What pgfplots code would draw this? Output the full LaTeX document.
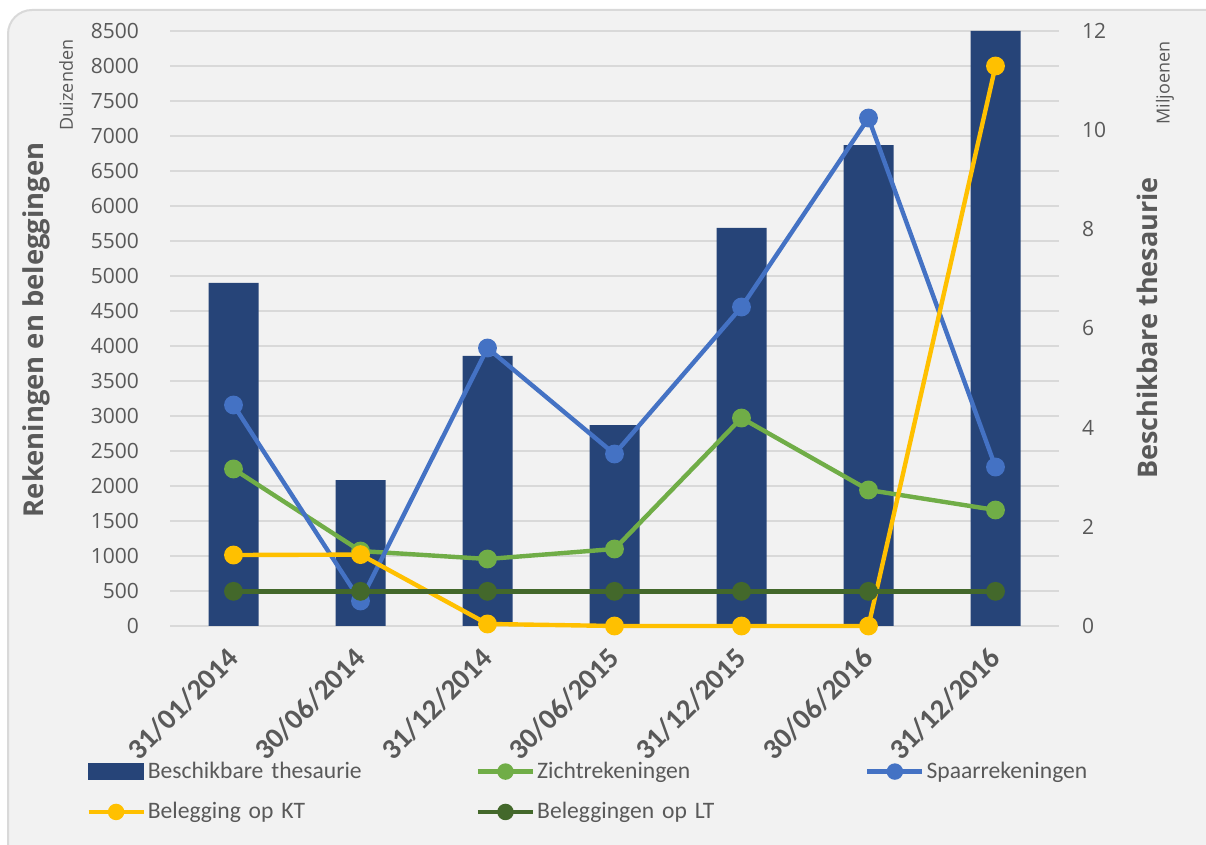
\documentclass[border=0pt]{standalone}
\usepackage{pgfplots}
\pgfplotsset{compat=1.18}
\usepackage{fontspec}
\setmainfont{Open Sans}
\newfontfamily\carl{Carlito}
\definecolor{barblue}{HTML}{264478}
\definecolor{lgreen}{HTML}{70AD47}
\definecolor{lblue}{HTML}{4472C4}
\definecolor{lyellow}{HTML}{FFC000}
\definecolor{dgreen}{HTML}{43682B}
\definecolor{textgray}{HTML}{595959}
\definecolor{gridgray}{HTML}{D9D9D9}
\definecolor{bggray}{HTML}{F2F2F2}
\begin{document}
\begin{tikzpicture}
% 1 px of the reference = 0.5pt
\fill[white] (0pt,0pt) rectangle (603pt,422.5pt);
\draw[draw=gridgray, fill=bggray, line width=1pt, rounded corners=12pt] (4pt,-15pt) rectangle (620pt,417.5pt);

\pgfplotsset{
  base/.style={
    at={(85pt,109.5pt)}, anchor=south west, scale only axis,
    width=444.5pt, height=297.5pt,
    xmin=-0.5, xmax=6.5, xtick={0,...,6},
    axis line style={draw=none}, tick style={draw=none},
    clip=false,
    ticklabel style={font=\fontsize{10.5}{12}\selectfont, text=textgray},
    /pgf/number format/assume math mode=true,
    /pgf/number format/1000 sep={},
  },
  lin/.style={line width=2.2pt, mark=*, mark size=3.6pt},
}

% grid + left ticks + category labels
\begin{axis}[base,
  ymin=0, ymax=8500, ytick={0,500,...,8500},
  ymajorgrids, grid style={gridgray, line width=1pt},
  xticklabels={31/01/2014,30/06/2014,31/12/2014,30/06/2015,31/12/2015,30/06/2016,31/12/2016},
  xticklabel style={xshift=-4pt, yshift=-5pt, rotate=45, anchor=north east, font=\carl\bfseries\fontsize{14.5}{16}\selectfont},
  yticklabel style={anchor=east, xshift=-12pt},
]
\addplot[draw=none] coordinates {(0,0)};
\end{axis}

% bars on right axis
\begin{axis}[base,
  ymin=0, ymax=12, ytick={0,2,...,12},
  yticklabel pos=right,
  yticklabel style={anchor=west, xshift=8pt},
  xticklabels={},
  ybar, bar width=25pt,
]
\addplot[fill=barblue, draw=none] coordinates {
  (0,6.92) (1,2.94) (2,5.45) (3,4.05) (4,8.03) (5,9.70) (6,12.0)
};
\end{axis}

% lines on left axis
\begin{axis}[base,
  ymin=0, ymax=8500, ytick={0,500,...,8500},
  yticklabels={}, xticklabels={},
  legend columns=3,
  legend style={draw=none, fill=none, at={(-0.0945,-0.221)}, anchor=north west,
    inner sep=0pt, row sep=6.5pt,
    font=\carl\fontsize{11.8}{13}\selectfont, text=textgray,
    nodes={text width=163pt, inner xsep=1pt, align=left}},
  legend image code/.code={\draw[mark repeat=2,mark phase=2,mark size=3pt,#1] plot coordinates {(0pt,0pt)(13.75pt,0pt)(27.5pt,0pt)};},
]
\addlegendimage{legend image code/.code={\fill[barblue] (0pt,-4pt) rectangle (27.5pt,4pt);}}
\addlegendentry{Beschikbare thesaurie}
\addplot[lin, color=lgreen] coordinates {
  (0,2243) (1,1071) (2,957) (3,1100) (4,2971) (5,1943) (6,1657)
};
\addlegendentry{Zichtrekeningen}
\addplot[lin, color=lblue] coordinates {
  (0,3157) (1,357) (2,3971) (3,2457) (4,4557) (5,7257) (6,2271)
};
\addlegendentry{Spaarrekeningen}
\addplot[lin, color=lyellow] coordinates {
  (0,1014) (1,1020) (2,29) (3,0) (4,0) (5,0) (6,8000)
};
\addlegendentry{Belegging op KT}
\addplot[lin, color=dgreen] coordinates {
  (0,495) (1,495) (2,495) (3,495) (4,495) (5,495) (6,495)
};
\addlegendentry{Beleggingen op LT}
\end{axis}

\node[rotate=90, font=\bfseries\fontsize{13.7}{16}\selectfont, text=textgray] at (18pt,257.5pt) {Rekeningen en beleggingen};
\node[rotate=90, font=\fontsize{9}{10}\selectfont, text=textgray] at (33pt,380pt) {Duizenden};
\node[rotate=90, font=\bfseries\fontsize{13.5}{15}\selectfont, text=textgray] at (573.5pt,258.5pt) {Beschikbare thesaurie};
\node[rotate=90, font=\fontsize{9}{10}\selectfont, text=textgray] at (582.5pt,381pt) {Miljoenen};

\pgfresetboundingbox
\useasboundingbox (0pt,0pt) rectangle (603pt,422.5pt);
\end{tikzpicture}
\end{document}
